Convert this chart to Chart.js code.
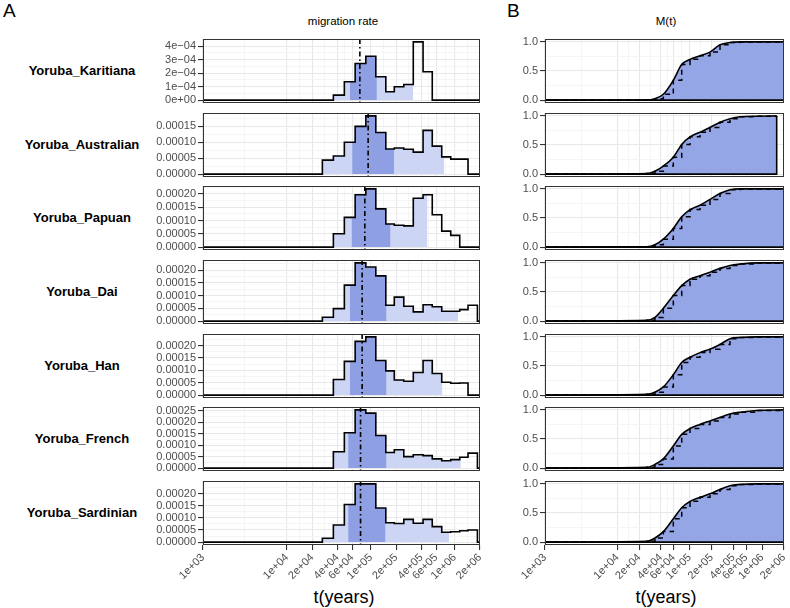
<!DOCTYPE html>
<html>
<head>
<meta charset="utf-8">
<script src="https://cdn.jsdelivr.net/npm/chart.js@4.4.1/dist/chart.umd.min.js"></script>
<style>
  body { margin: 0; background: #fff; font-family: "Liberation Sans", Arial, sans-serif; }
  #page { position: relative; width: 790px; height: 608px; overflow: hidden; }
  #page canvas { position: absolute; }
  .txt { position: absolute; white-space: nowrap; color: #000; }
  .tag { font-size: 19px; top: 0; }
  .head { font-size: 11.5px; top: 15px; width: 200px; text-align: center; }
  .axis-title { font-size: 18px; top: 587px; width: 200px; text-align: center; }
  .row-label { font-size: 13px; font-weight: bold; left: 0; width: 164px; text-align: center; }
</style>
</head>
<body>
<div id="page">
  <div class="txt tag" style="left:3px">A</div>
  <div class="txt tag" style="left:507px">B</div>
  <div class="txt head" style="left:243px">migration rate</div>
  <div class="txt head" style="left:566px">M(t)</div>
  <div class="txt axis-title" style="left:244px">t(years)</div>
  <div class="txt axis-title" style="left:566px">t(years)</div>
</div>
<script>
const populations = ['Yoruba_Karitiana', 'Yoruba_Australian', 'Yoruba_Papuan', 'Yoruba_Dai',
                     'Yoruba_Han', 'Yoruba_French', 'Yoruba_Sardinian'];

// time segment boundaries (years)
const binEdges = [26450, 35780, 48360, 65040, 87200, 114700, 150900, 190400, 247100,
                  320600, 419400, 539700, 700000, 896200, 1147000, 1440000, 1863000];

// migration rate per segment, in units of 1e-5
const rateKaritiana  = [0, 3.7, 13.6, 27.2, 32.6, 17.3, 6.2, 9.9, 11.6, 43.2, 21.0, 0, 0, 0, 0, 0];
const rateAustralian = [4.4, 5.7, 10.0, 15.0, 18.3, 13.1, 7.9, 8.2, 7.8, 6.9, 13.75, 8.8, 5.4, 4.7, 4.7, 0];
const ratePapuan     = [0, 5.0, 11.2, 19.7, 21.9, 14.4, 8.7, 8.2, 8.0, 18.4, 19.7, 12.2, 6.0, 4.4, 0, 0];
const rateDai        = [1.5, 4.9, 14.1, 22.8, 21.2, 17.7, 6.2, 9.4, 5.8, 3.6, 6.4, 5.6, 3.85, 3.85, 4.5, 6.2];
const rateHan        = [0, 6.3, 13.6, 21.7, 23.5, 14.0, 9.8, 6.1, 5.6, 9.1, 14.0, 8.7, 5.2, 4.8, 4.9, 0];
const rateFrench     = [0, 7.1, 15.4, 25.3, 23.9, 14.2, 6.8, 8.0, 5.0, 5.8, 5.4, 4.0, 3.2, 3.7, 4.7, 6.5];
const rateSardinian  = [1.6, 7.1, 15.6, 24.1, 24.1, 14.1, 8.0, 7.7, 9.4, 7.8, 9.4, 6.4, 4.1, 4.3, 4.7, 5.0];
const rates = [rateKaritiana, rateAustralian, ratePapuan, rateDai, rateHan, rateFrench, rateSardinian];

// shaded intervals and median (years)
const outerLo = [35780, 26450, 35780, 26450, 35780, 35780, 26450];
const outerHi = [320600, 745600, 473200, 1095000, 713800, 1179000, 855300];
const innerLo = [56200, 59900, 58900, 56200, 56200, 53700, 53700];
const innerHi = [118000, 189400, 171600, 153800, 153800, 153800, 149600];
const medians = [74000, 92900, 84800, 78800, 78800, 75400, 75400];

// y axis ticks for panel A (step in 1e-5)
const yStep = [10, 5, 5, 5, 5, 5, 5];
const yLabels = [
  ['0e+00', '1e\u221204', '2e\u221204', '3e\u221204', '4e\u221204'],
  ['0.00000', '0.00005', '0.00010', '0.00015'],
  ['0.00000', '0.00005', '0.00010', '0.00015', '0.00020'],
  ['0.00000', '0.00005', '0.00010', '0.00015', '0.00020'],
  ['0.00000', '0.00005', '0.00010', '0.00015', '0.00020'],
  ['0.00000', '0.00005', '0.00010', '0.00015', '0.00020', '0.00025'],
  ['0.00000', '0.00005', '0.00010', '0.00015', '0.00020']
];

// cumulative M(t)
const mTimes = [1000, 25400, 33000, 43100, 59200, 77300, 100700, 138400, 190100, 261200, 358900, 493200, 839500, 2000000];
const mKaritiana  = [0, 0, 0.025, 0.10, 0.34, 0.61, 0.70, 0.76, 0.825, 0.95, 0.99, 1, 1, 1];
const mAustralian = [0, 0.01, 0.05, 0.137, 0.29, 0.51, 0.64, 0.72, 0.80, 0.89, 0.95, 0.985, 0.995, 1];
const mPapuan     = [0, 0.005, 0.04, 0.136, 0.32, 0.52, 0.645, 0.72, 0.82, 0.92, 0.985, 1, 1, 1];
const mDai        = [0, 0.0125, 0.0625, 0.22, 0.44, 0.61, 0.72, 0.78, 0.84, 0.906, 0.956, 0.98, 1, 1];
const mHan        = [0, 0.013, 0.05, 0.14, 0.35, 0.56, 0.65, 0.73, 0.79, 0.87, 0.97, 0.99, 1, 1];
const mFrench     = [0, 0.013, 0.063, 0.158, 0.38, 0.58, 0.68, 0.75, 0.81, 0.87, 0.93, 0.96, 0.99, 1];
const mSardinian  = [0, 0.013, 0.07, 0.18, 0.40, 0.59, 0.70, 0.77, 0.83, 0.905, 0.97, 0.99, 1, 1];
const mCurves = [mKaritiana, mAustralian, mPapuan, mDai, mHan, mFrench, mSardinian];
const mEnd = [2000000, 1585000, 2000000, 2000000, 2000000, 2000000, 2000000];

const xBreaks = [1e3, 1e4, 2e4, 4e4, 6e4, 1e5, 2e5, 4e5, 6e5, 1e6, 2e6];
const xBreakLabels = ['1e+03', '1e+04', '2e+04', '4e+04', '6e+04', '1e+05', '2e+05', '4e+05', '6e+05', '1e+06', '2e+06'];

const INNER_FILL = '#8E9FE3';
const OUTER_FILL = '#CCD5F3';
const M_FILL = '#95A6E6';
const GRID_MAJOR = '#E8E8E8';
const GRID_MINOR = '#F2F2F2';
const TICK_TEXT = '#4D4D4D';

// layout
const A_LEFT = 203, A_RIGHT = 480, B_LEFT = 545, B_RIGHT = 784;
const A_CANVAS = 140, B_CANVAS = 490;
const TOP0 = 39, PITCH = 73.67, PANEL_H = 64, PAD_TOP = 4, BOTTOM_AXIS = 48;

Chart.defaults.font.family = '"Liberation Sans", Arial, sans-serif';
Chart.defaults.animation = false;

// x ticks: breaks plus minor lines midway on the log scale
const xTicks = [];
xBreaks.forEach((b, k) => {
  xTicks.push({ value: b, minor: false, txt: xBreakLabels[k] });
  if (k < xBreaks.length - 1) xTicks.push({ value: Math.sqrt(b * xBreaks[k + 1]), minor: true, txt: '' });
});

const page = document.getElementById('page');

function addCanvas(left, top, w, h) {
  const c = document.createElement('canvas');
  c.width = w; c.height = h;
  c.style.left = left + 'px'; c.style.top = top + 'px';
  c.style.width = w + 'px'; c.style.height = h + 'px';
  page.appendChild(c);
  return c;
}

const isMinor = ctx => ctx.tick && ctx.tick.minor;

function xScale(bottomRow, axisH) {
  return {
    type: 'logarithmic', min: 1000, max: 2e6,
    afterBuildTicks: s => { s.ticks = xTicks.map(t => ({ ...t })); },
    afterFit: s => { s.height = axisH; s.paddingLeft = 0; s.paddingRight = 0; },
    ticks: {
      display: bottomRow, autoSkip: false, minRotation: 45, maxRotation: 45, padding: 1,
      color: TICK_TEXT, font: { size: 11 },
      callback: (v, idx, ticks) => ticks[idx].txt
    },
    grid: {
      color: ctx => isMinor(ctx) ? GRID_MINOR : GRID_MAJOR,
      lineWidth: ctx => isMinor(ctx) ? 0.8 : 1.1,
      drawTicks: bottomRow, tickLength: 5,
      tickColor: ctx => isMinor(ctx) ? 'rgba(0,0,0,0)' : '#333'
    },
    border: { display: false }
  };
}

function yScale(lo, hi, ticks, width) {
  return {
    type: 'linear', min: lo, max: hi,
    afterBuildTicks: s => { s.ticks = ticks.map(t => ({ ...t })); },
    afterFit: s => { s.width = width; s.paddingTop = 0; s.paddingBottom = 0; },
    ticks: {
      autoSkip: false, padding: 2, color: TICK_TEXT, font: { size: 11 },
      callback: (v, idx, t) => t[idx].txt
    },
    grid: {
      color: ctx => isMinor(ctx) ? GRID_MINOR : GRID_MAJOR,
      lineWidth: ctx => isMinor(ctx) ? 0.8 : 1.1,
      tickLength: 5,
      tickColor: ctx => isMinor(ctx) ? 'rgba(0,0,0,0)' : '#333'
    },
    border: { display: false }
  };
}

function yTickList(values, labels, hi) {
  const list = [];
  values.forEach((v, k) => {
    list.push({ value: v, minor: false, txt: labels[k] });
    const next = k < values.length - 1 ? values[k + 1] : v + (v - values[k - 1]);
    const mid = (v + next) / 2;
    if (mid < hi) list.push({ value: mid, minor: true, txt: '' });
  });
  return list;
}

const panelFrame = {
  id: 'panelFrame',
  afterDraw(chart) {
    const { ctx, chartArea: a } = chart;
    ctx.save();
    ctx.strokeStyle = '#333';
    ctx.lineWidth = 1;
    ctx.strokeRect(Math.round(a.left) + 0.5, Math.round(a.top) + 0.5,
                   Math.round(a.right - a.left) - 1, Math.round(a.bottom - a.top) - 1);
    ctx.restore();
  }
};

const medianLine = {
  id: 'medianLine',
  afterDatasetsDraw(chart, args, opts) {
    if (opts.value == null) return;
    const { ctx, chartArea: a } = chart;
    const x = chart.scales.x.getPixelForValue(opts.value);
    ctx.save();
    ctx.beginPath();
    ctx.rect(a.left, a.top, a.right - a.left, a.bottom - a.top);
    ctx.clip();
    ctx.strokeStyle = '#000';
    ctx.lineWidth = 1.6;
    ctx.setLineDash([5, 3, 1.5, 3]);
    ctx.beginPath();
    ctx.moveTo(x, a.top);
    ctx.lineTo(x, a.bottom);
    ctx.stroke();
    ctx.restore();
  }
};

// outline of the step histogram between two times
function stepPoints(values, from, to) {
  const valueAt = t => {
    for (let k = 0; k < values.length; k++) {
      if (t >= binEdges[k] && t < binEdges[k + 1]) return values[k];
    }
    return 0;
  };
  const pts = [{ x: from, y: valueAt(from) }];
  binEdges.forEach((e, k) => {
    if (e > from && e < to) pts.push({ x: e, y: values[k] ?? 0 });
  });
  pts.push({ x: to, y: pts[pts.length - 1].y });
  return pts;
}

populations.forEach((name, i) => {
  const top = Math.round(TOP0 + PITCH * i);
  const bottomRow = i === populations.length - 1;
  const axisH = bottomRow ? BOTTOM_AXIS : PAD_TOP;
  const h = PAD_TOP + PANEL_H + axisH;

  const label = document.createElement('div');
  label.className = 'txt row-label';
  label.style.top = (top + PANEL_H / 2 - 8) + 'px';
  label.textContent = name;
  page.appendChild(label);

  // panel A: migration rate histogram
  const vals = rates[i];
  const ymax = Math.max(...vals);
  const yLo = -0.05 * ymax, yHi = 1.05 * ymax;
  const yVals = yLabels[i].map((_, k) => k * yStep[i]);
  const cA = addCanvas(A_CANVAS, top - PAD_TOP, 350, h);
  new Chart(cA, {
    type: 'line',
    data: {
      datasets: [
        { data: stepPoints(vals, 1000, 2e6), stepped: true, borderColor: '#000', borderWidth: 1.6,
          pointRadius: 0, fill: false, order: 0 },
        { data: stepPoints(vals, innerLo[i], innerHi[i]), stepped: true, borderWidth: 0,
          backgroundColor: INNER_FILL, pointRadius: 0, fill: 'origin', order: 1 },
        { data: stepPoints(vals, outerLo[i], outerHi[i]), stepped: true, borderWidth: 0,
          backgroundColor: OUTER_FILL, pointRadius: 0, fill: 'origin', order: 2 }
      ]
    },
    options: {
      responsive: false,
      layout: { padding: { top: PAD_TOP, right: 350 - (A_RIGHT - A_CANVAS), left: 0, bottom: 0 } },
      plugins: { legend: { display: false }, tooltip: { enabled: false }, medianLine: { value: medians[i] } },
      scales: {
        x: xScale(bottomRow, axisH),
        y: yScale(yLo, yHi, yTickList(yVals, yLabels[i], yHi), A_LEFT - A_CANVAS)
      }
    },
    plugins: [panelFrame, medianLine]
  });

  // panel B: cumulative M(t)
  const m = mCurves[i];
  const last = mTimes.length - 1;
  const pts = mTimes.map((t, j) => ({ x: j === last ? mEnd[i] : t, y: m[j] }));
  const cB = addCanvas(B_CANVAS, top - PAD_TOP, 300, h);
  new Chart(cB, {
    type: 'line',
    data: {
      datasets: [
        { data: [{ x: mEnd[i], y: m[last] }, { x: mEnd[i], y: 0 }, { x: 1000, y: 0 }],
          borderColor: '#000', borderWidth: 1.6, pointRadius: 0, fill: false, order: 0 },
        { data: pts, stepped: true, borderColor: '#000', borderWidth: 1.5, borderDash: [5, 4],
          pointRadius: 0, fill: false, order: 1 },
        { data: pts, cubicInterpolationMode: 'monotone', borderColor: '#000', borderWidth: 1.6,
          backgroundColor: M_FILL, pointRadius: 0, fill: 'origin', order: 2 }
      ]
    },
    options: {
      responsive: false,
      layout: { padding: { top: PAD_TOP, right: 300 - (B_RIGHT - B_CANVAS), left: 0, bottom: 0 } },
      plugins: { legend: { display: false }, tooltip: { enabled: false } },
      scales: {
        x: xScale(bottomRow, axisH),
        y: yScale(-0.05, 1.05, yTickList([0, 0.5, 1], ['0.0', '0.5', '1.0'], 1.05), B_LEFT - B_CANVAS)
      }
    },
    plugins: [panelFrame]
  });
});
</script>
</body>
</html>
